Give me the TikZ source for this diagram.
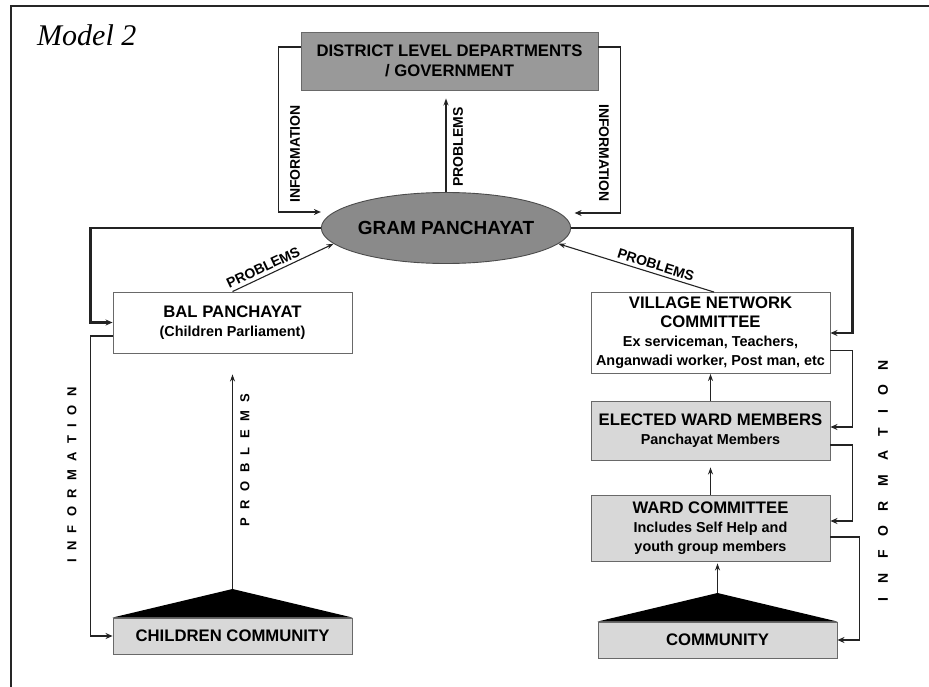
\documentclass[tikz,border=0pt]{standalone}
\usepackage{fontspec}
\setmainfont{Liberation Sans}
\newfontfamily\modelfont{Liberation Serif}
\usetikzlibrary{shapes.geometric,arrows.meta}
\definecolor{distgray}{RGB}{153,153,153}
\definecolor{gramgray}{RGB}{138,138,138}
\definecolor{boxgray}{RGB}{216,216,216}
\definecolor{linegray}{RGB}{35,35,35}
\definecolor{edgegray}{RGB}{105,105,105}
\newcommand{\headfont}{\bfseries\fontsize{16.7}{19}\selectfont}
\newcommand{\subfont}{\bfseries\fontsize{14.4}{18}\selectfont}
\newcommand{\tagfont}{\bfseries\fontsize{14}{14}\selectfont}
\newcommand{\widefont}{\bfseries\fontsize{13}{13}\selectfont\spaceskip=8.4pt\relax}
\newcommand{\widerfont}{\bfseries\fontsize{14}{14}\selectfont\spaceskip=14.2pt\relax}

\begin{document}
\begin{tikzpicture}[x=1pt,y=-1pt,
  box/.style={draw=edgegray, line width=0.9pt, minimum width=239pt, align=center, inner sep=0pt},
  tag/.style={font=\tagfont, inner sep=0pt},
  info/.style={draw=linegray, line width=1.4pt, line join=miter, -{Stealth[length=7pt,width=6pt]}},
  link/.style={draw=linegray, line width=2.4pt, line join=miter, -{Stealth[length=7pt,width=6pt]}},
  slim/.style={draw=linegray, line width=1.1pt, -{Stealth[length=7pt,width=5pt]}}]
\useasboundingbox (0,0) rectangle (929,687);
\draw[line width=2pt, black!85] (11,687) -- (11,6) -- (929,6);
\node[font=\modelfont\itshape\fontsize{30}{30}\selectfont, anchor=base west, inner sep=0pt] (model) at (37,46) {Model 2};

% Top level
\node[box, fill=distgray, minimum width=297pt, minimum height=58pt, font=\headfont] (dist) at (449.5,61) {DISTRICT LEVEL DEPARTMENTS\\[1pt]/ GOVERNMENT};
\node[ellipse, draw=black!70, fill=gramgray, line width=0.9pt, minimum width=203pt, minimum height=71pt, inner sep=0pt, font=\bfseries\fontsize{19}{19}\selectfont] (gram) at (446,228) {GRAM PANCHAYAT};

% Children side
\node[box, fill=white, minimum height=61pt, font=\headfont] (bal) at (232.5,322.5) {BAL PANCHAYAT\\\subfont (Children Parliament)};
\node[box, fill=boxgray, minimum height=36pt, font=\headfont] (child) at (232.5,636) {CHILDREN COMMUNITY};
\coordinate (ctop) at (232.5,589);
\fill (child.north west) -- (child.north east) -- (ctop) -- cycle;

% Village side
\node[box, fill=white, minimum height=81pt, font=\headfont] (village) at (710.5,333) {VILLAGE NETWORK\\COMMITTEE\\\subfont Ex serviceman, Teachers,\\\subfont Anganwadi worker, Post man, etc};
\node[box, fill=boxgray, minimum height=59pt, font=\headfont] (elected) at (710.5,430.5) {ELECTED WARD MEMBERS\\\subfont Panchayat Members};
\node[box, fill=boxgray, minimum height=66pt, font=\headfont] (ward) at (710.5,528) {WARD COMMITTEE\\\subfont Includes Self Help and\\\subfont youth group members};
\node[box, fill=boxgray, minimum height=36pt, font=\headfont] (comm) at (717.5,640) {COMMUNITY};
\coordinate (vtop) at (717.5,593);
\fill (comm.north west) -- (comm.north east) -- (vtop) -- cycle;

% Gram Panchayat and district
\draw[info] ([yshift=14pt]dist.west) -- ++(-22,0) |- ([yshift=16pt]gram.west);
\draw[info] ([yshift=14pt]dist.east) -- ++(22,0) |- ([xshift=3.5pt,yshift=15pt]gram.east);
\draw[slim, shorten >=8pt] (gram.north) -- (gram.north |- dist.south);
\node[tag, rotate=90] (infoa) at (295,154) {INFORMATION};
\node[tag, rotate=-90] (infob) at (604,153) {INFORMATION};
\node[tag, rotate=90] (proba) at (458,147) {PROBLEMS};

\draw[link] (gram.west) -| ([xshift=-22pt]bal.west) -- (bal.west);
\draw[link] (gram.east) -| ([xshift=22pt]village.east) -- (village.east);
\draw[slim] (bal.north) -- node[tag, sloped, above=3pt, pos=0.34] (probb) {PROBLEMS} (gram.188);
\draw[slim] ([xshift=3.5pt]village.north) -- node[tag, sloped, above=3pt, pos=0.39] (probc) {PROBLEMS} (gram.352);

% Children flows
\draw[slim, shorten >=21pt] (ctop) -- (ctop |- bal.south);
\draw[info] ([yshift=-13.5pt]bal.west) -- ++(-22,0) |- (child.west);
\node[font=\widefont, inner sep=0pt, rotate=90] (infoc) at (72,475) {I N F O R M A T I O N};
\node[font=\widefont, inner sep=0pt, rotate=90] (probd) at (245,460) {P R O B L E M S};

% Village flows
\draw[slim] (elected.north) -- (village.south);
\draw[slim, shorten >=7pt] (ward.north) -- (elected.south);
\draw[slim, shorten >=2pt] (vtop) -- (vtop |- ward.south);
\draw[info] ([yshift=-17.5pt]village.east) -- ++(22,0) |- ([yshift=3.5pt]elected.east);
\draw[info] ([yshift=-14.5pt]elected.east) -- ++(22,0) |- ([yshift=7pt]ward.east);
\draw[info] ([yshift=-9pt]ward.east) -- ++(29,0) |- (comm.east);
\node[font=\widerfont, inner sep=0pt, rotate=90] (infod) at (883,481) {I N F O R M A T I O N};
\end{tikzpicture}
\end{document}
